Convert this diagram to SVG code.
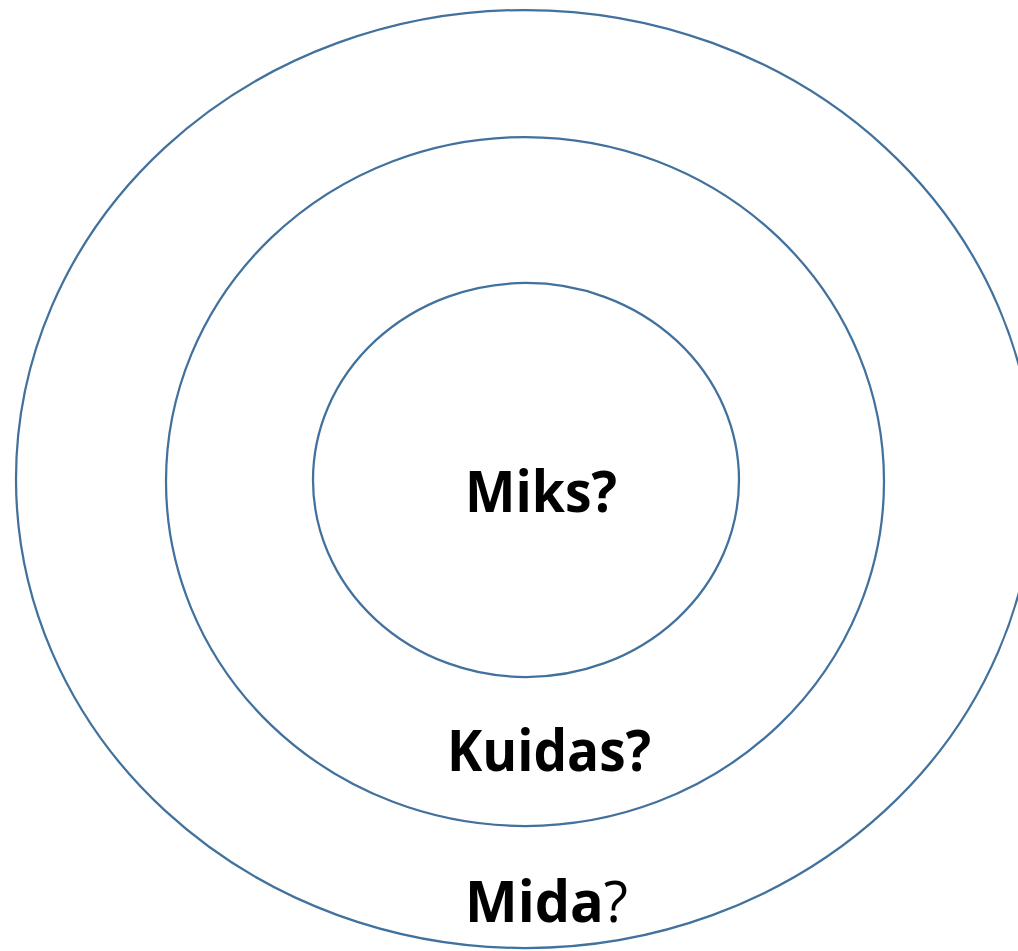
<svg xmlns="http://www.w3.org/2000/svg" width="1018" height="951" viewBox="0 0 1018 951">
<style>
.ring{fill:none;stroke:#41719c;stroke-width:2.25}
.lbl{font-family:"Open Sans","Liberation Sans",sans-serif;font-weight:bold;font-size:57px;fill:#000}
.reg{font-weight:normal}
</style>
<rect width="1018" height="951" fill="#fff"/>
<g id="outer"><ellipse class="ring" cx="525" cy="479" rx="509" ry="469"/></g>
<g id="middle"><ellipse class="ring" cx="525" cy="481.5" rx="359" ry="344.5"/></g>
<g id="inner"><ellipse class="ring" cx="526" cy="480" rx="213" ry="197"/></g>
<g id="label-miks"><text class="lbl" x="465" y="512" textLength="152" lengthAdjust="spacingAndGlyphs">Miks?</text></g>
<g id="label-kuidas"><text class="lbl" x="447" y="771" textLength="204" lengthAdjust="spacingAndGlyphs">Kuidas?</text></g>
<g id="label-mida"><text class="lbl" x="465" y="922" textLength="163" lengthAdjust="spacingAndGlyphs">Mida<tspan class="reg">?</tspan></text></g>
</svg>
